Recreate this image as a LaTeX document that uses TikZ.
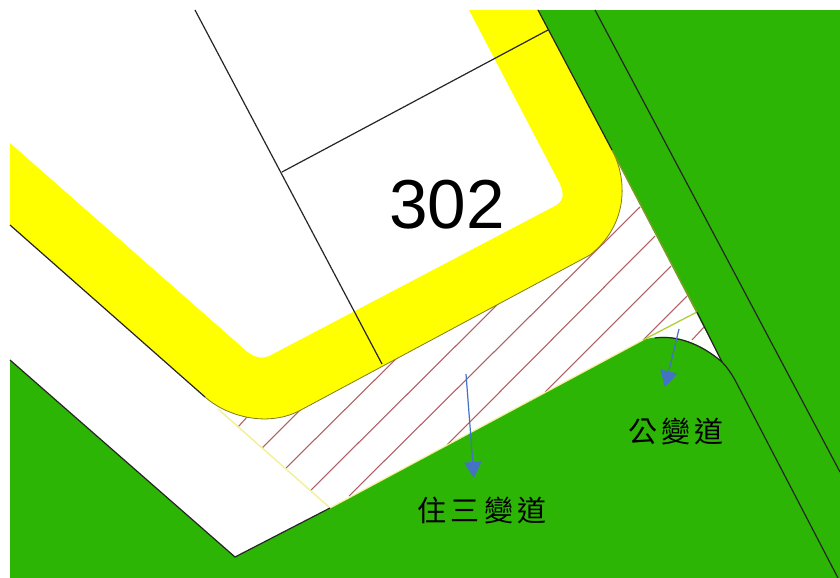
\documentclass[tikz,border=0pt]{standalone}
\usepackage{fontspec}
\setmainfont{Liberation Sans}
\newfontfamily\cjkfont[LetterSpace=14]{Noto Sans CJK TC}
\usetikzlibrary{arrows.meta}
\definecolor{grassgreen}{RGB}{44,181,4}
\definecolor{bandyellow}{RGB}{255,255,0}
\definecolor{hatchred}{RGB}{176,96,100}
\definecolor{arrowblue}{RGB}{68,114,196}
\definecolor{olive}{RGB}{127,122,32}
\definecolor{paleyellow}{RGB}{244,240,154}
\definecolor{limeedge}{RGB}{180,206,60}
\tikzset{
  parcel/.style={draw=black!85,line width=0.9pt},
  hatch/.style={draw=hatchred,line width=0.8pt},
  bluearrow/.style={draw=arrowblue,line width=0.9pt,-{Triangle[length=12pt,width=13pt,fill=arrowblue]}},
  cjklabel/.style={font=\cjkfont\fontsize{21.75}{26}\selectfont,text=black,inner sep=0pt}
}
\begin{document}
\begin{tikzpicture}[x=0.75pt,y=-0.75pt]
\useasboundingbox (0,0) rectangle (840,578);
\fill[white] (0,0) rectangle (840,578);
% green land
\fill[grassgreen] (10,360) -- (235,557) -- (330,508) -- (643,340)
  .. controls (665,333) and (695,337) .. (722,362)
  -- (538,10) -- (840,10) -- (840,578) -- (10,578) -- cycle;
% hatching
\draw[hatch] (238,427) -- (248,416);
\draw[hatch] (262,448) -- (302,408);
\draw[hatch] (286,468) -- (405,350);
\draw[hatch] (311,490) -- (505,297);
\draw[hatch] (349,496) -- (640,207);
\draw[hatch] (447,445) -- (655,236);
\draw[hatch] (545,392) -- (671,266);
\draw[hatch] (643,340) -- (687,296);
\draw[hatch] (692,340) -- (704,327);
% yellow band
\fill[bandyellow] (10,143) -- (243,348) .. controls (252,357) and (262,361) .. (273,354)
  -- (553,207) .. controls (563,202) and (565,196) .. (560,184)
  -- (469,10) -- (538,10) -- (612,150)
  .. controls (628,180) and (628,225) .. (590,255)
  -- (299,411) .. controls (265,428) and (225,415) .. (205,397)
  -- (10,225) -- cycle;
% edges of the yellow band
\draw[olive,line width=0.6pt] (612,150) .. controls (628,180) and (628,225) .. (590,255)
  -- (299,411) .. controls (265,428) and (225,415) .. (205,397);
\draw[parcel] (10,225) -- (205,397);
% change lines
\draw[paleyellow,line width=1.1pt] (218,409) -- (329,507);
\draw[paleyellow,line width=0.9pt] (330,508) -- (643,340);
\draw[limeedge,line width=1pt] (643,340) -- (697,312);
\draw[olive!70!limeedge,line width=0.8pt] (612,150) -- (697,312);
% parcel and road lines
\draw[parcel] (195,10) -- (382,364);
\draw[parcel] (282,172) -- (548,30);
\draw[parcel] (538,10) -- (612,150);
\draw[parcel] (697,312) -- (722,362);
\draw[parcel] (595,10) -- (840,472);
\draw[parcel] (10,360) -- (235,557) -- (330,508);
\draw[parcel] (655,338) .. controls (675,335) and (700,343) .. (722,362)
  .. controls (727,367) and (731,373) .. (735,380) -- (838,578);
% labels
\node[font=\fontsize{52}{60}\selectfont,inner sep=0pt] (lot) at (447,205) {302};
\node[cjklabel] (resid) at (482,511) {住三變道};
\node[cjklabel] (publ) at (676,432) {公變道};
% arrows
\coordinate (a1) at (466,374);
\coordinate (a2) at (474,478);
\coordinate (b1) at (679,329);
\coordinate (b2) at (665,387);
\draw[bluearrow] (a1) -- (a2);
\draw[bluearrow] (b1) -- (b2);
\end{tikzpicture}
\end{document}
